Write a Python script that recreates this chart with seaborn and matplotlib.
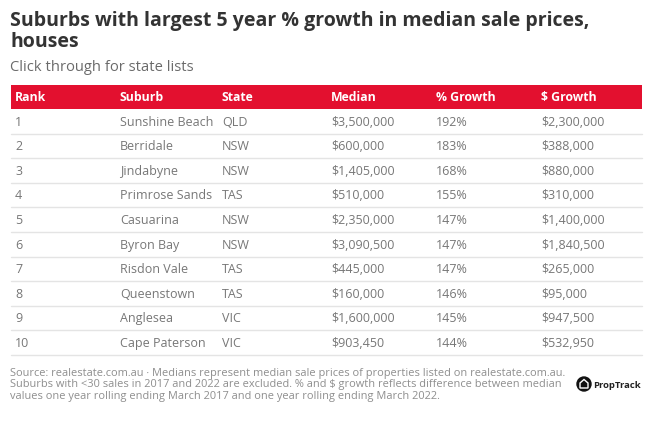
import pandas as pd
import matplotlib
matplotlib.use("Agg")
import matplotlib.pyplot as plt
from matplotlib.patches import Circle, Polygon
import seaborn as sns

# data
ranks = [1, 2, 3, 4, 5, 6, 7, 8, 9, 10]
suburbs = ["Sunshine Beach", "Berridale", "Jindabyne", "Primrose Sands", "Casuarina",
           "Byron Bay", "Risdon Vale", "Queenstown", "Anglesea", "Cape Paterson"]
states = ["QLD", "NSW", "NSW", "TAS", "NSW", "NSW", "TAS", "TAS", "VIC", "VIC"]
medians = [3500000, 600000, 1405000, 510000, 2350000, 3090500, 445000, 160000, 1600000, 903450]
pct_growth = [192, 183, 168, 155, 147, 147, 147, 146, 145, 144]
dollar_growth = [2300000, 388000, 880000, 310000, 1400000, 1840500, 265000, 95000, 947500, 532950]
columns = ["Rank", "Suburb", "State", "Median", "% Growth", "$ Growth"]

title = "Suburbs with largest 5 year % growth in median sale prices,\nhouses"
subtitle = "Click through for state lists"
notes = ["Source: realestate.com.au \u00b7 Medians represent median sale prices of properties listed on realestate.com.au.",
         "Suburbs with <30 sales in 2017 and 2022 are excluded. % and $ growth reflects difference between median",
         "values one year rolling ending March 2017 and one year rolling ending March 2022."]

df = pd.DataFrame({
    "Rank": [str(r) for r in ranks],
    "Suburb": suburbs,
    "State": states,
    "Median": [f"${v:,}" for v in medians],
    "% Growth": [f"{v}%" for v in pct_growth],
    "$ Growth": [f"${v:,}" for v in dollar_growth],
})

sns.set_theme(style="white")
plt.rcParams["font.family"] = ["Open Sans", "DejaVu Sans"]

RED = "#e3102f"
TXT = "#777777"

fig = plt.figure(figsize=(6.55, 4.21), dpi=100)
ax = fig.add_axes([0, 0, 1, 1])
ax.set_xlim(0, 655)
ax.set_ylim(421, 0)
ax.axis("off")

# titles
ax.text(10, 26, title.split("\n")[0], fontsize=14, fontweight="bold", color="#333333", va="baseline")
ax.text(10, 47, title.split("\n")[1], fontsize=14, fontweight="bold", color="#333333", va="baseline")
ax.text(10, 71, subtitle, fontsize=10.6, color="#6a6a6a", va="baseline")

# table
left, right = 11, 642
head_top, head_bot = 85, 109
row_h = 24.6
col_x = [15, 120, 222, 331, 436, 541]

ax.axhspan(head_top, head_bot, xmin=left / 655, xmax=right / 655, color=RED, lw=0)
for x, c in zip(col_x, columns):
    ax.text(x, 101, c, fontsize=8.8, fontweight="bold", color="white", va="baseline")

for i, row in df.iterrows():
    yc = head_bot + row_h * (i + 0.5)
    for x, c in zip(col_x, columns):
        ax.text(x, yc + 4.3, row[c], fontsize=9.0, color=TXT, va="baseline")
    ax.plot([left, right], [head_bot + row_h * (i + 1)] * 2, color="#e4e4e4", lw=1)

# footnote
for k, line in enumerate(notes):
    ax.text(10, 376 + 11.5 * k, line, fontsize=7.9, color="#8e8e8e", va="baseline")

# logo
ax.add_patch(Circle((584, 384), 7, color="#111111"))
ax.add_patch(Polygon([[580, 388], [580, 383], [584, 379.5], [588, 383], [588, 388]],
                     closed=True, fill=False, ec="white", lw=1))
ax.text(593, 387.5, "PropTrack", fontsize=6.8, fontweight="bold", color="#222222", va="baseline")

plt.savefig("out.png", dpi=100)
